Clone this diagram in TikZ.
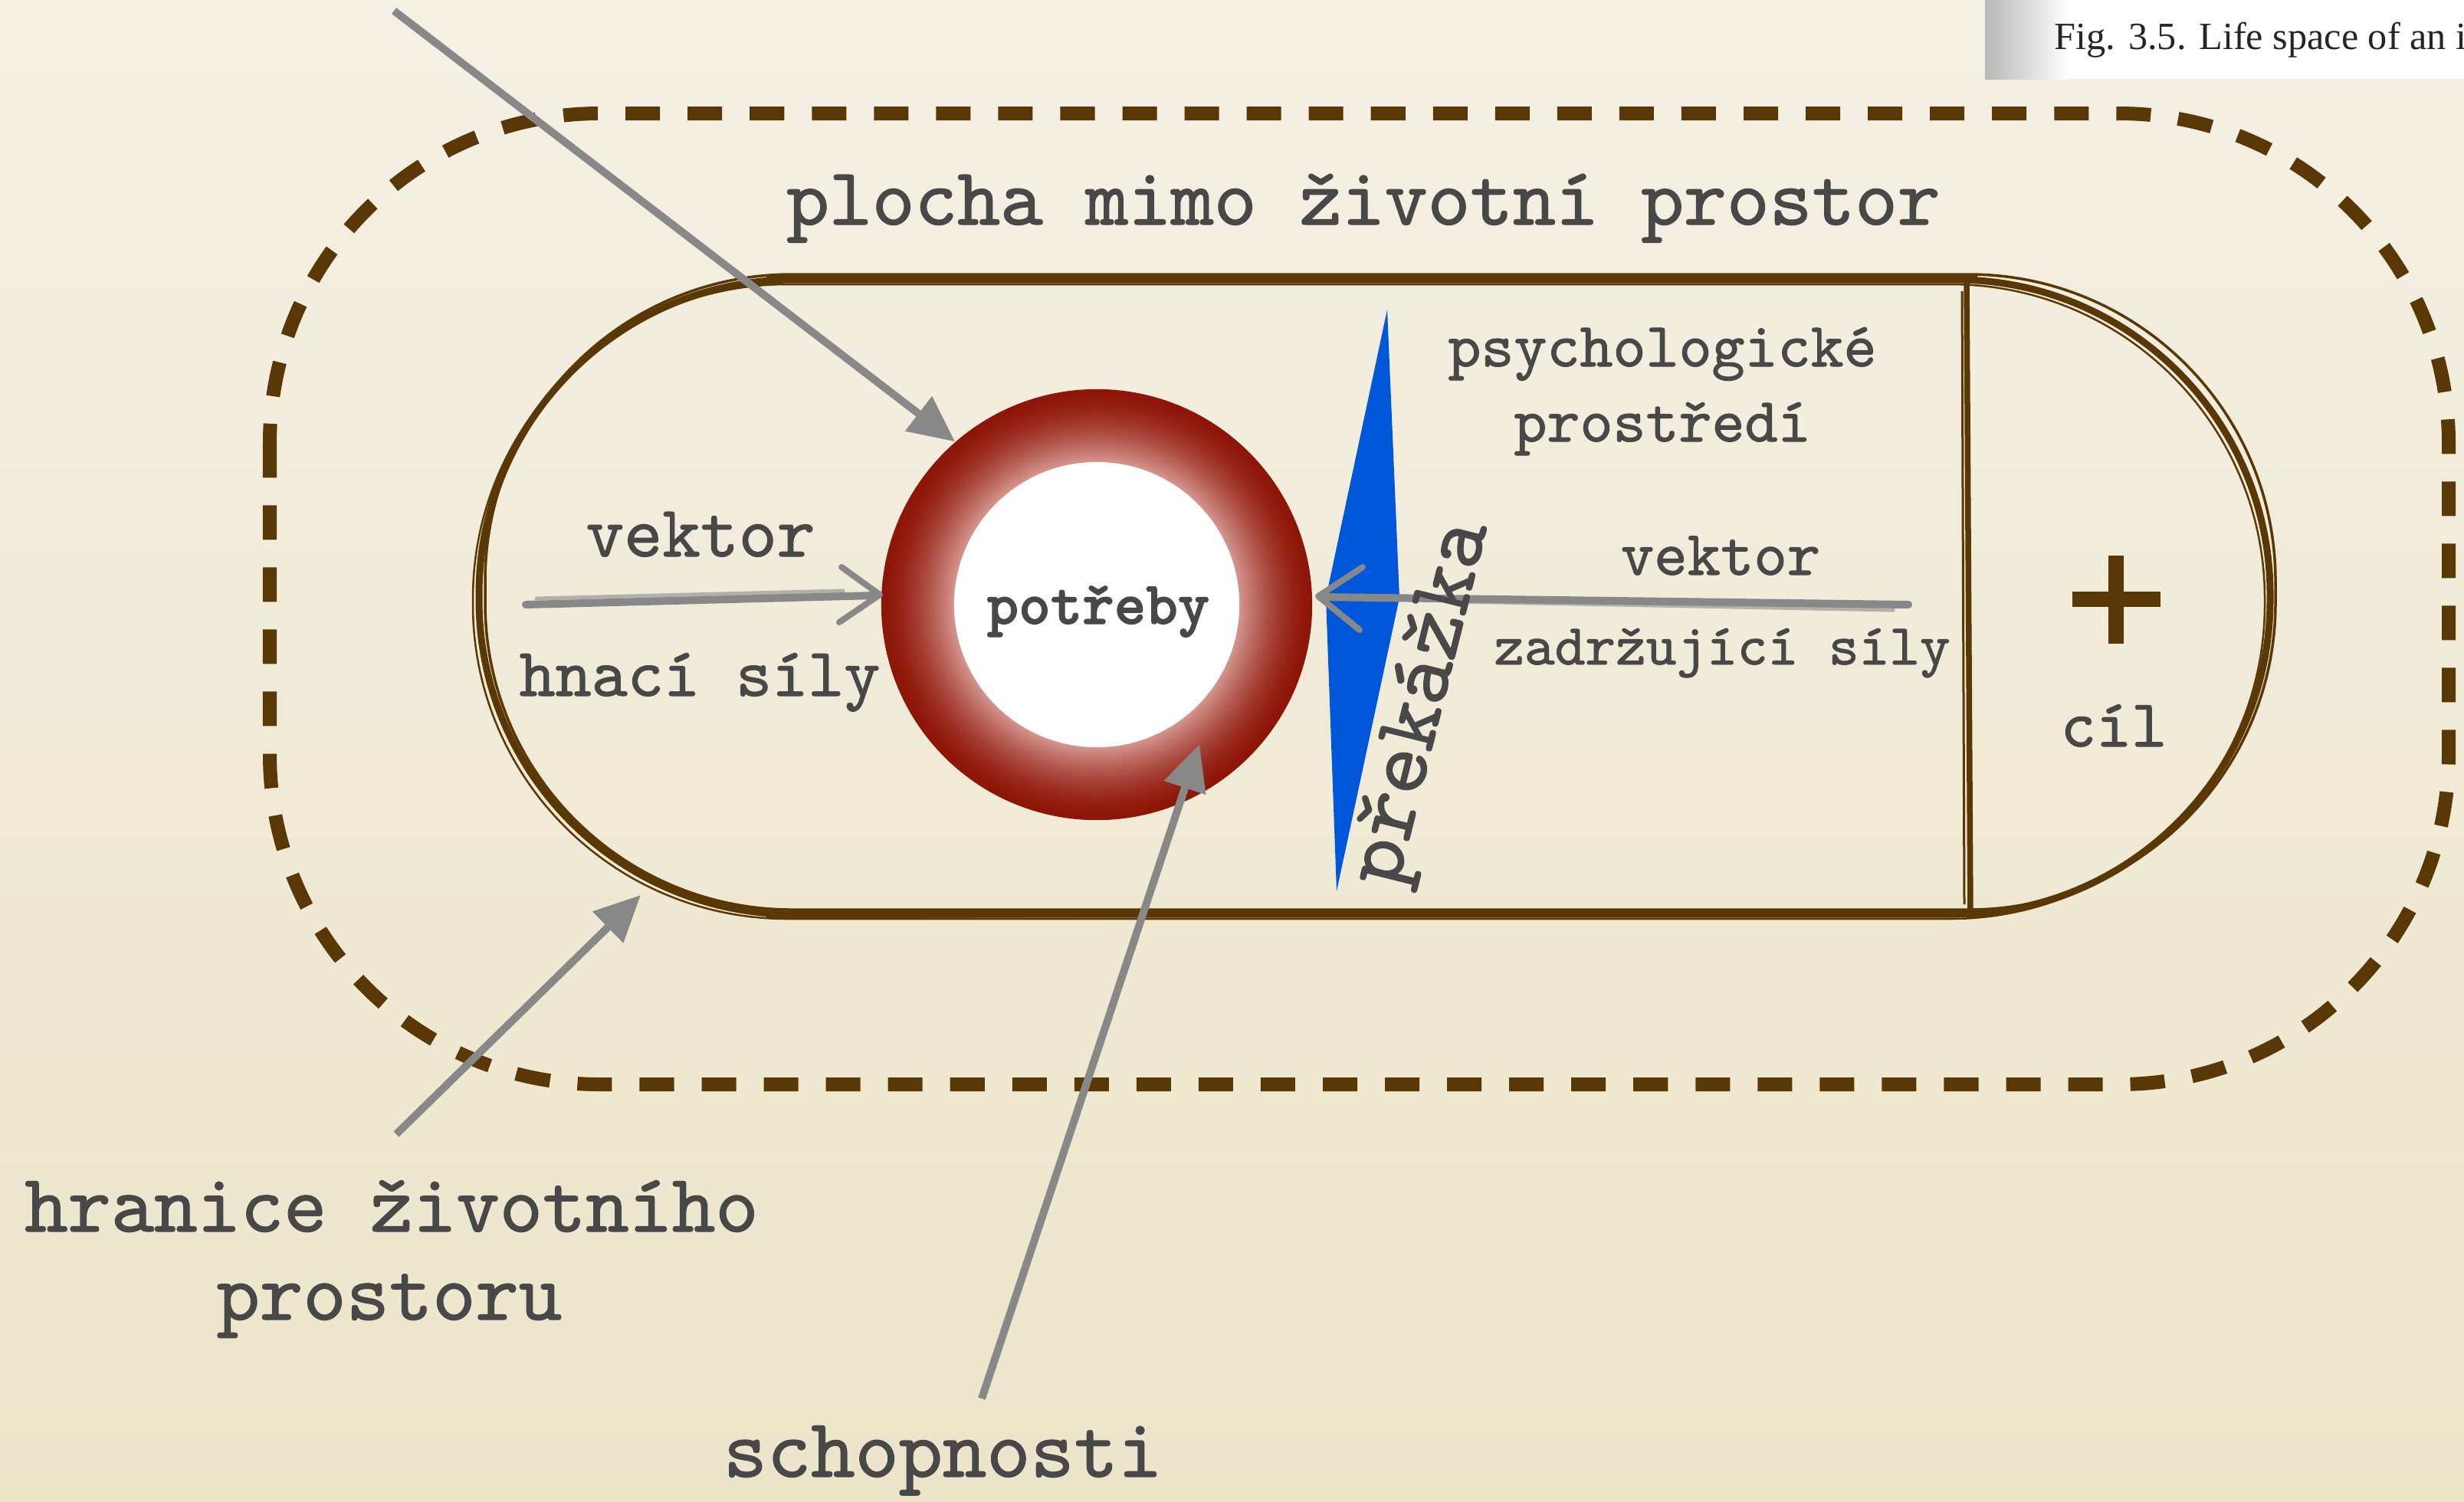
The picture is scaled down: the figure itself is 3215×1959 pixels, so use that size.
\documentclass[tikz,border=0pt]{standalone}
\usepackage{fontspec}
\newfontfamily\figfont{Liberation Serif}
\newfontfamily\tw{lmmono10-regular.otf}[FakeBold=1.2]
\newfontfamily\twb{lmmonolt10-bold.otf}[FakeBold=1.5]
\usetikzlibrary{arrows.meta}
\definecolor{bgtop}{RGB}{244,240,228}
\definecolor{bgbot}{RGB}{236,229,202}
\definecolor{brn}{RGB}{90,56,6}
\definecolor{txtgray}{RGB}{72,72,72}
\definecolor{ptrgray}{RGB}{136,136,136}
\definecolor{ringout}{RGB}{142,22,8}
\definecolor{ringin}{RGB}{214,152,146}
\definecolor{obst}{RGB}{0,87,217}
\newcommand\mytfs[1]{\tw\fontsize{#1}{#1}\selectfont}
\newcommand\mytbs[1]{\twb\fontsize{#1}{#1}\selectfont}
\begin{document}
\begin{tikzpicture}[x=0.01cm,y=-0.01cm,
  lbl/.style={text=txtgray, inner sep=0pt, anchor=base},
  pointer/.style={draw=ptrgray, line width=0.1cm, -{Triangle[length=0.6cm,width=0.55cm]}},
  vecline/.style={draw=ptrgray, line cap=round, line join=round},
  border/.style={draw=brn, line width=0.09cm},
]
\useasboundingbox (0,0) rectangle (3215,1959);
\shade[top color=bgtop, bottom color=bgbot] (0,0) rectangle (3215,1959);

% outer dashed boundary
\draw[brn, line width=0.18cm, dash pattern=on 0.45cm off 0.36cm, rounded corners=4.3cm] (352,148) rectangle (3195,1415);

% inner life space (sketchy)
\draw[border, rounded corners=4.1cm] (625,365) rectangle (2962,1193);
\draw[brn, line width=0.035cm, rounded corners=4.0cm] (633,358) rectangle (2969,1187);
\draw[brn, line width=0.025cm, rounded corners=4.1cm] (617,371) rectangle (2955,1199);
\draw[brn, line width=0.05cm] (1000,362) -- (2580,360);
\draw[brn, line width=0.05cm] (1000,1196) -- (2580,1190);
\draw[brn, line width=0.075cm] (2566,367) -- (2571,1191);
\draw[brn, line width=0.03cm] (2560,380) -- (2563,1180);

% goal plus
\draw[brn, line width=0.2cm] (2704,782) -- (2819,782) (2761,725) -- (2761,840);

% ring
\node[circle, minimum size=5.62cm, inner sep=0pt] (ring) at (1431,789) {};
\foreach \i in {0,...,47}{
  \pgfmathsetmacro\rr{2.81-\i*0.95/47}
  \pgfmathtruncatemacro\pp{100*(\i/47)^1.6}
  \fill[ringin!\pp!ringout] (ring.center) circle[radius=\rr cm];
}
\fill[white] (ring.center) circle[radius=1.86cm];
\node[lbl, font=\mytbs{22.5}] (needs) at (1433,814) {potřeby};

% obstacle
\fill[obst] (1810,404) -- (1826,780) -- (1744,1163) -- (1730,780) -- cycle;

% vectors
\draw[vecline, line width=0.1cm] (686,789) -- (1142,777);
\draw[vecline, line width=0.05cm, opacity=0.6] (700,781) -- (1100,771);
\draw[vecline, line width=0.08cm] (1098,740) -- (1148,776) -- (1095,812);
\draw[vecline, line width=0.1cm] (2490,789) -- (1724,779);
\draw[vecline, line width=0.05cm, opacity=0.6] (2470,796) -- (1900,785);
\draw[vecline, line width=0.08cm] (1778,740) -- (1720,778) -- (1774,822);

% labels
\node[lbl, font=\mytfs{30.2}] (outside) at (1779,293) {plocha mimo životní prostor};
\node[lbl, font=\mytfs{23.3}] (psych) at (2169,478) {psychologické};
\node[lbl, font=\mytfs{23.3}] (env) at (2169,576) {prostředí};
\node[lbl, font=\mytfs{23.5}] (vekR) at (2245,750) {vektor};
\node[lbl, font=\mytfs{21.5}] (restr) at (2247,867) {zadržující síly};
\node[lbl, font=\mytfs{25}] (goal) at (2758,974) {cíl};
\node[lbl, font=\mytfs{27}] (vekL) at (914,726) {vektor};
\node[lbl, font=\mytfs{25.5}] (drive) at (913,908) {hnací síly};
\node[lbl, font=\mytfs{30.5}] (bound1) at (511,1607) {hranice životního};
\node[lbl, font=\mytfs{30.5}] (bound2) at (508,1722) {prostoru};
\node[lbl, font=\mytfs{31}] (abil) at (1230,1927) {schopnosti};
\node[text=txtgray, inner sep=0pt, rotate=76, font=\mytfs{33}] (barrier) at (1858,918) {překážka};

% pointers
\coordinate (tailA) at (514,14);
\draw[pointer] (tailA) -- (ring.131);
\coordinate (tailH) at (517,1480);
\coordinate (tipH) at (836,1168);
\draw[pointer] (tailH) -- (tipH);
\coordinate (tailS) at (1281,1825);
\coordinate (tipS) at (1565,971);
\draw[pointer] (tailS) -- (tipS);

% figure caption snippet
\fill[white] (2590,0) rectangle (3215,103);
\shade[left color=black!28, right color=white] (2590,0) rectangle (2700,103);
\node[anchor=base west, inner sep=0pt, font=\figfont\fontsize{14.3}{14.3}\selectfont, text=black!85] (fig) at (2680,64) {Fig. 3.5. Life space of an i};
\end{tikzpicture}
\end{document}
